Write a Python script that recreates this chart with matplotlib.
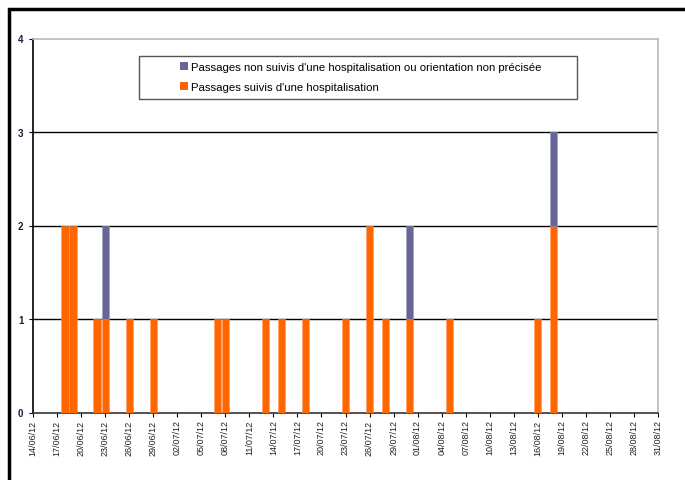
import datetime as dt
import matplotlib
matplotlib.use("Agg")
import numpy as np
import matplotlib.pyplot as plt
from matplotlib.patches import Rectangle, Patch

plt.rcParams['font.family'] = ['Liberation Sans Narrow', 'Liberation Sans', 'DejaVu Sans']

# daily counts (dd/mm/yy)
hosp_dates = ["18/06/12", "19/06/12", "22/06/12", "23/06/12", "26/06/12", "29/06/12",
              "07/07/12", "08/07/12", "13/07/12", "15/07/12", "18/07/12", "23/07/12",
              "26/07/12", "28/07/12", "31/07/12", "05/08/12", "16/08/12", "18/08/12"]
hosp_values = [2, 2, 1, 1, 1, 1, 1, 1, 1, 1, 1, 1, 2, 1, 1, 1, 1, 2]
other_dates = ["23/06/12", "31/07/12", "18/08/12"]
other_values = [1, 1, 1]

start = dt.date(2012, 6, 14)
end = dt.date(2012, 8, 31)

def day_index(s):
    d = dt.datetime.strptime(s, "%d/%m/%y").date()
    return (d - start).days

n_days = (end - start).days + 1
hosp = np.zeros(n_days)
other = np.zeros(n_days)
for s, v in zip(hosp_dates, hosp_values):
    hosp[day_index(s)] = v
for s, v in zip(other_dates, other_values):
    other[day_index(s)] = v

orange = '#FF6600'
purple = '#666699'

fig = plt.figure(figsize=(6.85, 4.81), dpi=100)
ax = fig.add_axes([33 / 685, 67.5 / 481, 625 / 685, 374 / 481])

x = np.arange(n_days)
mask = hosp > 0
ax.bar(x[mask], hosp[mask], width=0.9, color=orange, edgecolor='#ff9a5a', linewidth=0.4, zorder=3)
mask2 = other > 0
ax.bar(x[mask2], other[mask2], width=0.9, bottom=hosp[mask2], color=purple,
       edgecolor='#9a9ac0', linewidth=0.4, zorder=3)

ax.set_xlim(0, n_days - 1)
ax.set_ylim(0, 4)
for yv in [1, 2, 3]:
    ax.axhline(yv, color='black', linewidth=1.0, zorder=2)

ticks = np.arange(0, n_days, 3)
ax.set_xticks(ticks)
ax.set_xticklabels([(start + dt.timedelta(days=int(t))).strftime("%d/%m/%y") for t in ticks],
                   rotation=90, fontsize=6.5, color='#222222')
ax.set_yticks([0, 1, 2, 3, 4])
ax.set_yticklabels(['0', '1', '2', '3', '4'], fontsize=7, fontweight='bold', color='#1a1a40')
ax.tick_params(axis='x', length=3, width=0.8, pad=2)
ax.tick_params(axis='y', length=3, width=0.8, pad=4)

ax.spines['left'].set_color('black')
ax.spines['bottom'].set_color('#333333')
ax.spines['top'].set_color('#bbbbbb')
ax.spines['right'].set_color('#bbbbbb')
for sp in ax.spines.values():
    sp.set_linewidth(1.2)

# outer frame
fig.patches.append(Rectangle((8.5 / 685, -0.1), 1.2, (481 - 10) / 481 + 0.1,
                             transform=fig.transFigure, fill=False,
                             edgecolor='black', linewidth=2.5))

# legend box
fig.patches.append(Rectangle((139 / 685, (481 - 100) / 481), 438 / 685, 43 / 481,
                             transform=fig.transFigure, facecolor='white',
                             edgecolor='#555555', linewidth=1.0, zorder=5))
handles = [Patch(facecolor=purple, edgecolor='none'), Patch(facecolor=orange, edgecolor='none')]
labels = ["Passages non suivis d'une hospitalisation ou orientation non précisée",
          "Passages suivis d'une hospitalisation"]
leg = fig.legend(handles, labels, loc='upper left', bbox_to_anchor=(180 / 685, (481 - 63) / 481),
                 frameon=False, fontsize=8.2, handlelength=0.7, handleheight=0.7,
                 handletextpad=0.3, labelspacing=0.9, borderaxespad=0, borderpad=0.0)
leg.set_zorder(6)

fig.savefig("out.png", dpi=100)
